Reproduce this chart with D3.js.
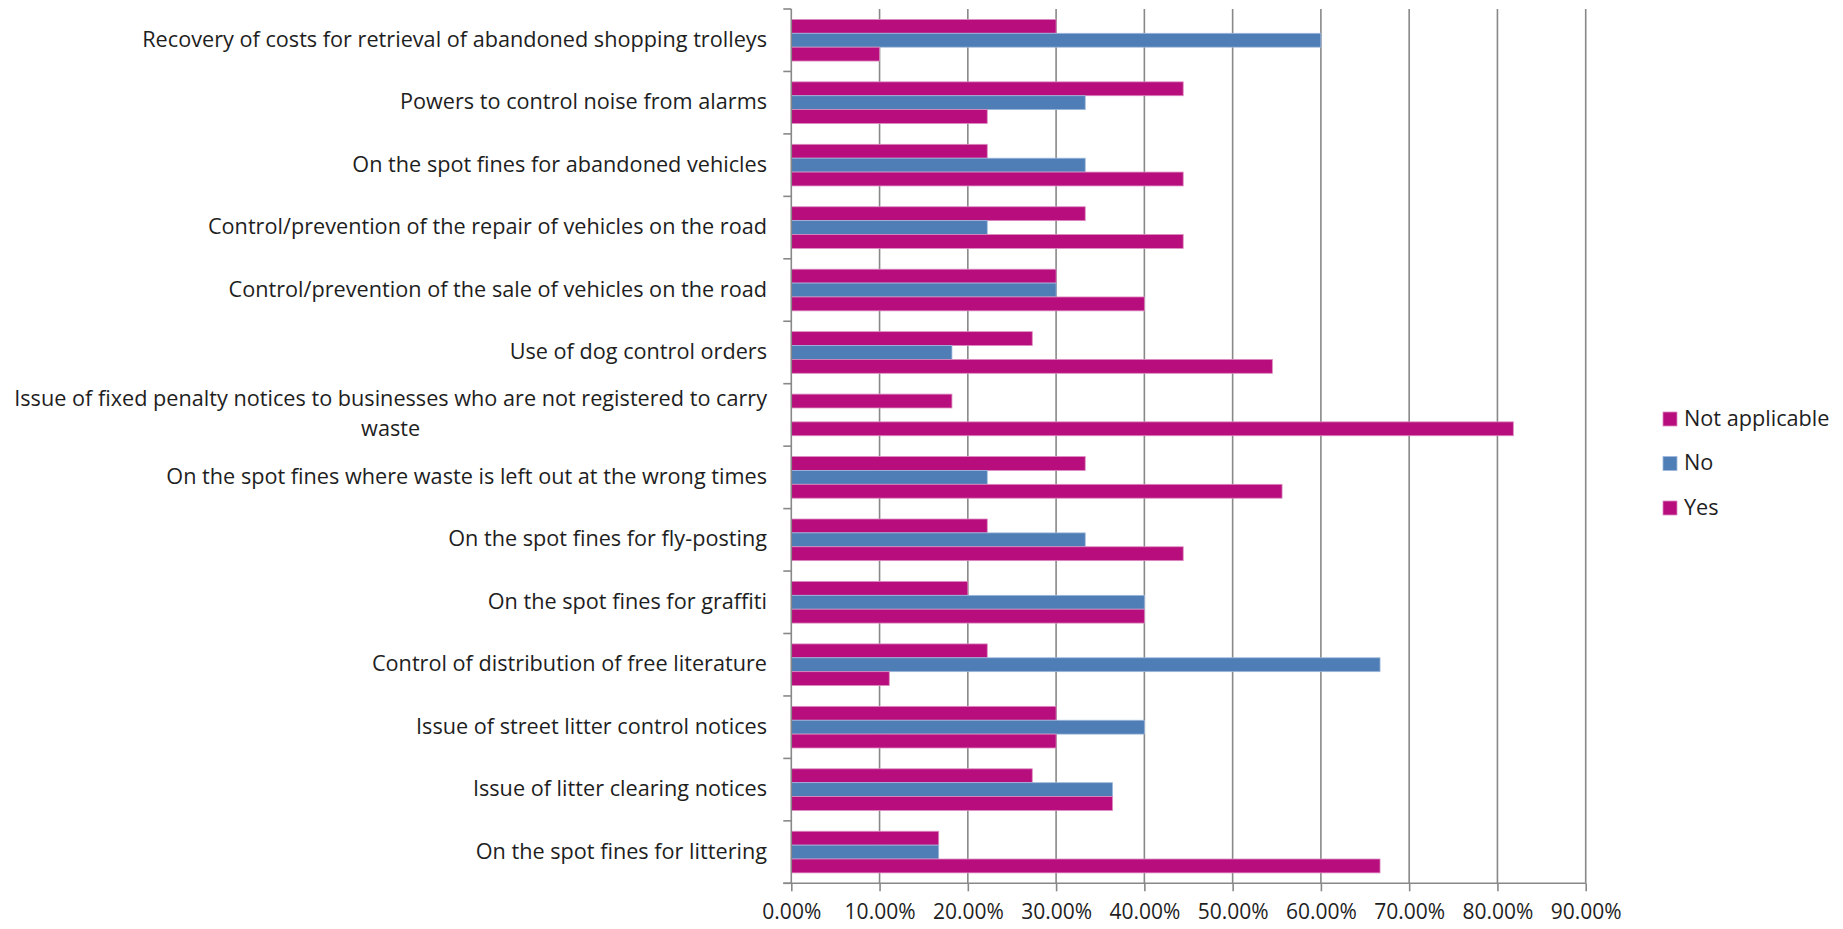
<!DOCTYPE html>
<html>
<head>
<meta charset="utf-8">
<script src="https://cdn.jsdelivr.net/npm/d3@7"></script>
<style>
  html, body { margin: 0; padding: 0; background: #fff; }
  svg { display: block; }
  text { font-family: "Open Sans", "Noto Sans", sans-serif; fill: #1e1e1e; }
</style>
</head>
<body>
<svg id="chart" width="1843" height="929"></svg>
<script>
// Enforcement powers, share of responses per answer
const categories = [
  "Recovery of costs for retrieval of abandoned shopping trolleys",
  "Powers to control noise from alarms",
  "On the spot fines for abandoned vehicles",
  "Control/prevention of the repair of vehicles on the road",
  "Control/prevention of the sale of vehicles on the road",
  "Use of dog control orders",
  "Issue of fixed penalty notices to businesses who are not registered to carry waste",
  "On the spot fines where waste is left out at the wrong times",
  "On the spot fines for fly-posting",
  "On the spot fines for graffiti",
  "Control of distribution of free literature",
  "Issue of street litter control notices",
  "Issue of litter clearing notices",
  "On the spot fines for littering"
];
const seriesNames = ["Not applicable", "No", "Yes"];
const notApplicable = [0.300, 0.444, 0.222, 0.333, 0.300, 0.273, 0.182, 0.333, 0.222, 0.200, 0.222, 0.300, 0.273, 0.167];
const no            = [0.600, 0.333, 0.333, 0.222, 0.300, 0.182, 0.000, 0.222, 0.333, 0.400, 0.667, 0.400, 0.364, 0.167];
const yes           = [0.100, 0.222, 0.444, 0.444, 0.400, 0.545, 0.818, 0.556, 0.444, 0.400, 0.111, 0.300, 0.364, 0.667];
const xTicks = [0, 0.1, 0.2, 0.3, 0.4, 0.5, 0.6, 0.7, 0.8, 0.9];

// wrapped label lines for the long category
const labelLines = {
  "Issue of fixed penalty notices to businesses who are not registered to carry waste":
    ["Issue of fixed penalty notices to businesses who are not registered to carry", "waste"]
};

const seriesValues = [notApplicable, no, yes];
const fills   = ["#B80E7D", "#4F7DB5", "#B80E7D"];
const strokes = ["#DC8CC0", "#9FB9DC", "#DC8CC0"];

const svg = d3.select("#chart");
const plot = { left: 791.3, right: 1585.7, top: 9, bottom: 883.3 };

// pick a font size so the first category label spans about 625px
const probe = svg.append("text").attr("font-size", 20).text(categories[0]);
const labelSize = 20 * 625 / probe.node().getComputedTextLength();
probe.remove();
const tickSize = labelSize * 0.97;

const x = d3.scaleLinear().domain([0, 0.9]).range([plot.left, plot.right]);
const y = d3.scaleBand().domain(categories).range([plot.top, plot.bottom]);
// three bars per category, gap of 150% of a bar width split on both sides
const inner = d3.scaleBand().domain(seriesNames).range([0, y.bandwidth()]).paddingOuter(0.75);

const gridColor = "#888888";

// vertical gridlines
svg.append("g").selectAll("line").data(xTicks.slice(1)).join("line")
  .attr("x1", d => x(d)).attr("x2", d => x(d))
  .attr("y1", plot.top).attr("y2", plot.bottom)
  .attr("stroke", gridColor).attr("stroke-width", 1.6);

// bars
const rows = categories.map((c, i) => ({ c, i }));
const groups = svg.append("g").selectAll("g").data(rows).join("g")
  .attr("transform", d => `translate(0,${y(d.c)})`);
seriesNames.forEach((s, k) => {
  groups.filter(d => seriesValues[k][d.i] > 0).append("rect")
    .attr("x", x(0))
    .attr("y", inner(s))
    .attr("width", d => x(seriesValues[k][d.i]) - x(0))
    .attr("height", inner.bandwidth())
    .attr("fill", fills[k])
    .attr("stroke", strokes[k])
    .attr("stroke-width", 0.8);
});

// bottom axis with percentage labels
const xAxis = svg.append("g")
  .attr("transform", `translate(0,${plot.bottom})`)
  .call(d3.axisBottom(x).tickValues(xTicks).tickSize(8).tickPadding(0).tickFormat(d3.format(".2%")));
xAxis.select(".domain").remove();
xAxis.selectAll(".tick line").attr("stroke", gridColor).attr("stroke-width", 1.6);
xAxis.selectAll(".tick text")
  .attr("y", 36).attr("dy", null)
  .attr("font-size", tickSize).attr("font-family", '"Open Sans", sans-serif').attr("fill", "#1e1e1e");
svg.append("line")
  .attr("x1", plot.left - 8).attr("x2", plot.right)
  .attr("y1", plot.bottom).attr("y2", plot.bottom)
  .attr("stroke", gridColor).attr("stroke-width", 1.6);

// left axis line with ticks at category boundaries
svg.append("line")
  .attr("x1", plot.left).attr("x2", plot.left)
  .attr("y1", plot.top).attr("y2", plot.bottom)
  .attr("stroke", gridColor).attr("stroke-width", 1.6);
const bounds = categories.map(c => y(c)).concat([plot.bottom]);
svg.append("g").selectAll("line").data(bounds).join("line")
  .attr("x1", plot.left - 8).attr("x2", plot.left)
  .attr("y1", d => d).attr("y2", d => d)
  .attr("stroke", gridColor).attr("stroke-width", 1.6);

// category labels, right aligned; wrapped lines centred on the first line
const labelRight = 767;
const lineGap = 30;
const lift = 2;
categories.forEach(c => {
  const cy = y(c) + y.bandwidth() / 2 - lift;
  const lines = labelLines[c] || [c];
  if (lines.length === 1) {
    svg.append("text").attr("x", labelRight).attr("y", cy)
      .attr("text-anchor", "end").attr("dominant-baseline", "central")
      .attr("font-size", labelSize).text(c);
  } else {
    const first = svg.append("text").attr("x", labelRight).attr("y", cy - lineGap / 2)
      .attr("text-anchor", "end").attr("dominant-baseline", "central")
      .attr("font-size", labelSize).text(lines[0]);
    const w = first.node().getComputedTextLength();
    svg.append("text").attr("x", labelRight - w / 2).attr("y", cy + lineGap / 2)
      .attr("text-anchor", "middle").attr("dominant-baseline", "central")
      .attr("font-size", labelSize).text(lines[1]);
  }
});

// legend
const legend = svg.append("g").attr("transform", "translate(1663,419)");
seriesNames.forEach((s, k) => {
  const g = legend.append("g").attr("transform", `translate(0,${k * 44.5})`);
  g.append("rect").attr("x", 0).attr("y", -7).attr("width", 14).attr("height", 14)
    .attr("fill", fills[k]).attr("stroke", strokes[k]).attr("stroke-width", 0.8);
  g.append("text").attr("x", 21).attr("y", -lift).attr("dominant-baseline", "central")
    .attr("font-size", labelSize).text(s);
});
</script>
</body>
</html>
